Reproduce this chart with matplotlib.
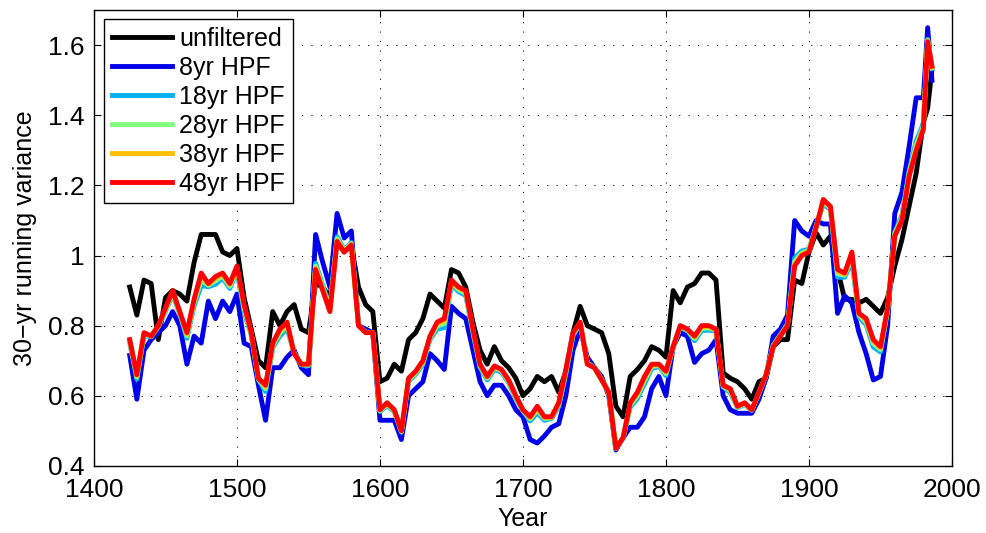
import numpy as np
import matplotlib
matplotlib.use('Agg')
import matplotlib.pyplot as plt
from matplotlib.ticker import FuncFormatter

# year axis shared by all curves
years = list(range(1425, 1981, 5)) + [1983, 1986]

unfiltered = [0.91, 0.83, 0.93, 0.92, 0.76, 0.88, 0.90, 0.89, 0.87, 0.98,
	1.06, 1.06, 1.06, 1.01, 1.00, 1.02, 0.88, 0.79, 0.70, 0.68,
	0.84, 0.80, 0.84, 0.86, 0.79, 0.78, 0.92, 0.91, 0.88, 1.04,
	1.01, 1.03, 0.91, 0.86, 0.84, 0.64, 0.65, 0.69, 0.67, 0.76,
	0.78, 0.82, 0.89, 0.87, 0.85, 0.96, 0.95, 0.91, 0.81, 0.73,
	0.69, 0.74, 0.70, 0.68, 0.65, 0.60, 0.62, 0.655, 0.64, 0.655,
	0.61, 0.67, 0.78, 0.855, 0.80, 0.79, 0.78, 0.72, 0.57, 0.54,
	0.655, 0.675, 0.70, 0.74, 0.73, 0.71, 0.90, 0.865, 0.91, 0.92,
	0.95, 0.95, 0.93, 0.665, 0.65, 0.64, 0.62, 0.59, 0.64, 0.65,
	0.74, 0.76, 0.76, 0.93, 0.92, 1.01, 1.065, 1.03, 1.055, 0.96,
	0.875, 0.875, 0.865, 0.875, 0.855, 0.835, 0.88, 0.97, 1.045, 1.14,
	1.235, 1.38, 1.42, 1.53]

hpf8 = [0.715, 0.59, 0.73, 0.76, 0.78, 0.80, 0.84, 0.80, 0.69, 0.77,
	0.75, 0.87, 0.82, 0.87, 0.84, 0.89, 0.75, 0.74, 0.63, 0.53,
	0.68, 0.68, 0.71, 0.73, 0.68, 0.66, 1.06, 0.98, 0.91, 1.12,
	1.05, 1.07, 0.80, 0.79, 0.78, 0.53, 0.53, 0.53, 0.475, 0.60,
	0.62, 0.64, 0.72, 0.70, 0.675, 0.855, 0.835, 0.82, 0.73, 0.64,
	0.60, 0.63, 0.63, 0.60, 0.56, 0.54, 0.475, 0.465, 0.485, 0.51,
	0.52, 0.60, 0.73, 0.79, 0.71, 0.68, 0.655, 0.60, 0.445, 0.48,
	0.51, 0.51, 0.54, 0.62, 0.655, 0.60, 0.74, 0.78, 0.77, 0.695,
	0.72, 0.73, 0.76, 0.60, 0.56, 0.55, 0.55, 0.55, 0.59, 0.65,
	0.77, 0.79, 0.83, 1.10, 1.07, 1.055, 1.10, 1.09, 1.09, 0.835,
	0.885, 0.865, 0.78, 0.72, 0.645, 0.655, 0.80, 1.12, 1.18, 1.31,
	1.45, 1.45, 1.65, 1.50]

hpf18 = [0.752, 0.647, 0.771, 0.768, 0.796, 0.841, 0.889, 0.833, 0.764, 0.856,
	0.914, 0.911, 0.918, 0.936, 0.906, 0.956, 0.840, 0.773, 0.646, 0.612,
	0.737, 0.770, 0.792, 0.722, 0.688, 0.685, 0.978, 0.914, 0.853, 1.054,
	1.017, 1.037, 0.800, 0.782, 0.780, 0.555, 0.571, 0.555, 0.496, 0.641,
	0.661, 0.689, 0.761, 0.790, 0.794, 0.917, 0.897, 0.886, 0.779, 0.681,
	0.645, 0.675, 0.667, 0.637, 0.593, 0.556, 0.528, 0.551, 0.530, 0.535,
	0.569, 0.662, 0.771, 0.806, 0.694, 0.680, 0.647, 0.608, 0.449, 0.480,
	0.567, 0.592, 0.634, 0.677, 0.684, 0.657, 0.740, 0.796, 0.786, 0.757,
	0.786, 0.787, 0.785, 0.625, 0.609, 0.566, 0.575, 0.558, 0.606, 0.658,
	0.745, 0.774, 0.805, 0.993, 1.013, 1.018, 1.084, 1.147, 1.131, 0.938,
	0.938, 0.984, 0.825, 0.802, 0.739, 0.725, 0.841, 1.067, 1.114, 1.240,
	1.327, 1.376, 1.617, 1.533]

hpf28 = [0.756, 0.653, 0.775, 0.769, 0.798, 0.845, 0.894, 0.836, 0.771, 0.865,
	0.930, 0.915, 0.928, 0.942, 0.912, 0.962, 0.849, 0.776, 0.648, 0.620,
	0.743, 0.779, 0.800, 0.721, 0.689, 0.687, 0.970, 0.908, 0.847, 1.048,
	1.014, 1.034, 0.800, 0.781, 0.780, 0.557, 0.575, 0.557, 0.498, 0.645,
	0.665, 0.694, 0.765, 0.799, 0.806, 0.923, 0.903, 0.892, 0.784, 0.685,
	0.650, 0.680, 0.671, 0.641, 0.596, 0.558, 0.534, 0.560, 0.535, 0.537,
	0.574, 0.668, 0.775, 0.808, 0.692, 0.680, 0.646, 0.609, 0.450, 0.480,
	0.573, 0.600, 0.644, 0.683, 0.687, 0.663, 0.740, 0.798, 0.788, 0.763,
	0.792, 0.793, 0.787, 0.627, 0.614, 0.568, 0.577, 0.559, 0.608, 0.659,
	0.743, 0.772, 0.803, 0.983, 1.007, 1.015, 1.082, 1.153, 1.135, 0.948,
	0.944, 0.996, 0.830, 0.810, 0.749, 0.732, 0.845, 1.062, 1.108, 1.234,
	1.315, 1.369, 1.614, 1.536]

hpf38 = [0.758, 0.657, 0.778, 0.770, 0.799, 0.848, 0.898, 0.838, 0.776, 0.871,
	0.942, 0.918, 0.935, 0.947, 0.917, 0.967, 0.856, 0.778, 0.649, 0.626,
	0.747, 0.786, 0.806, 0.720, 0.690, 0.689, 0.964, 0.903, 0.843, 1.043,
	1.012, 1.032, 0.800, 0.780, 0.780, 0.559, 0.578, 0.559, 0.499, 0.648,
	0.668, 0.698, 0.768, 0.806, 0.814, 0.927, 0.907, 0.897, 0.788, 0.688,
	0.653, 0.683, 0.673, 0.643, 0.598, 0.559, 0.537, 0.566, 0.538, 0.539,
	0.578, 0.672, 0.778, 0.809, 0.691, 0.680, 0.645, 0.610, 0.450, 0.480,
	0.577, 0.606, 0.650, 0.687, 0.689, 0.667, 0.740, 0.799, 0.789, 0.767,
	0.797, 0.797, 0.789, 0.629, 0.618, 0.569, 0.579, 0.560, 0.609, 0.660,
	0.741, 0.771, 0.801, 0.975, 1.003, 1.012, 1.081, 1.157, 1.138, 0.955,
	0.947, 1.004, 0.833, 0.816, 0.755, 0.737, 0.848, 1.058, 1.103, 1.228,
	1.306, 1.364, 1.612, 1.538]

hpf48 = [0.76, 0.66, 0.78, 0.77, 0.80, 0.85, 0.90, 0.84, 0.78, 0.875,
	0.95, 0.92, 0.94, 0.95, 0.92, 0.97, 0.86, 0.78, 0.65, 0.63,
	0.75, 0.79, 0.81, 0.72, 0.69, 0.69, 0.96, 0.90, 0.84, 1.04,
	1.01, 1.03, 0.80, 0.78, 0.78, 0.56, 0.58, 0.56, 0.50, 0.65,
	0.67, 0.70, 0.77, 0.81, 0.82, 0.93, 0.91, 0.90, 0.79, 0.69,
	0.655, 0.685, 0.675, 0.645, 0.60, 0.56, 0.54, 0.57, 0.54, 0.54,
	0.58, 0.675, 0.78, 0.81, 0.69, 0.68, 0.645, 0.61, 0.45, 0.48,
	0.58, 0.61, 0.655, 0.69, 0.69, 0.67, 0.74, 0.80, 0.79, 0.77,
	0.80, 0.80, 0.79, 0.63, 0.62, 0.57, 0.58, 0.56, 0.61, 0.66,
	0.74, 0.77, 0.80, 0.97, 1.00, 1.01, 1.08, 1.16, 1.14, 0.96,
	0.95, 1.01, 0.835, 0.82, 0.76, 0.74, 0.85, 1.055, 1.10, 1.225,
	1.30, 1.36, 1.61, 1.54]

labels = ['unfiltered', '8yr HPF', '18yr HPF', '28yr HPF', '38yr HPF', '48yr HPF']
colors = ['k', '#0000e8', '#00b0ff', '#80ff80', '#ffc000', '#ff0000']
series = [unfiltered, hpf8, hpf18, hpf28, hpf38, hpf48]

plt.rcParams['font.family'] = ['Liberation Sans', 'DejaVu Sans']

fig = plt.figure(figsize=(9.87, 5.33), dpi=100)
ax = fig.add_axes([0.0952, 0.126, 0.8693, 0.855])

for s, c, l in zip(series, colors, labels):
	ax.plot(years, s, color=c, lw=3.5, label=l, solid_joinstyle='round')

ax.set_xlim(1400, 2000)
ax.set_ylim(0.4, 1.7)
ax.set_xticks(np.arange(1400, 2001, 100))
ax.set_yticks([0.4, 0.6, 0.8, 1.0, 1.2, 1.4, 1.6])
ax.yaxis.set_major_formatter(FuncFormatter(lambda v, p: '%g' % round(v, 2)))
ax.tick_params(direction='in', length=5, width=0.8, top=True, right=True,
	labelsize=19)
ax.tick_params(axis='y', pad=7)
ax.tick_params(axis='x', pad=9)
ax.grid(True, color='k', lw=0.7, linestyle=(0, (1.2, 8.5)))
for sp in ax.spines.values():
	sp.set_linewidth(1.0)

ax.set_xlabel('Year', fontsize=18, labelpad=3)
ax.set_ylabel('30\u2212yr running variance', fontsize=18, labelpad=8)

leg = ax.legend(loc='upper left', bbox_to_anchor=(0.012, 0.98), borderaxespad=0,
	fancybox=False, edgecolor='k', framealpha=1, fontsize=18,
	handlelength=2.4, handletextpad=0.3, labelspacing=0.2, borderpad=0.3)
leg.get_frame().set_linewidth(1.0)

fig.savefig('out.png', dpi=100)
